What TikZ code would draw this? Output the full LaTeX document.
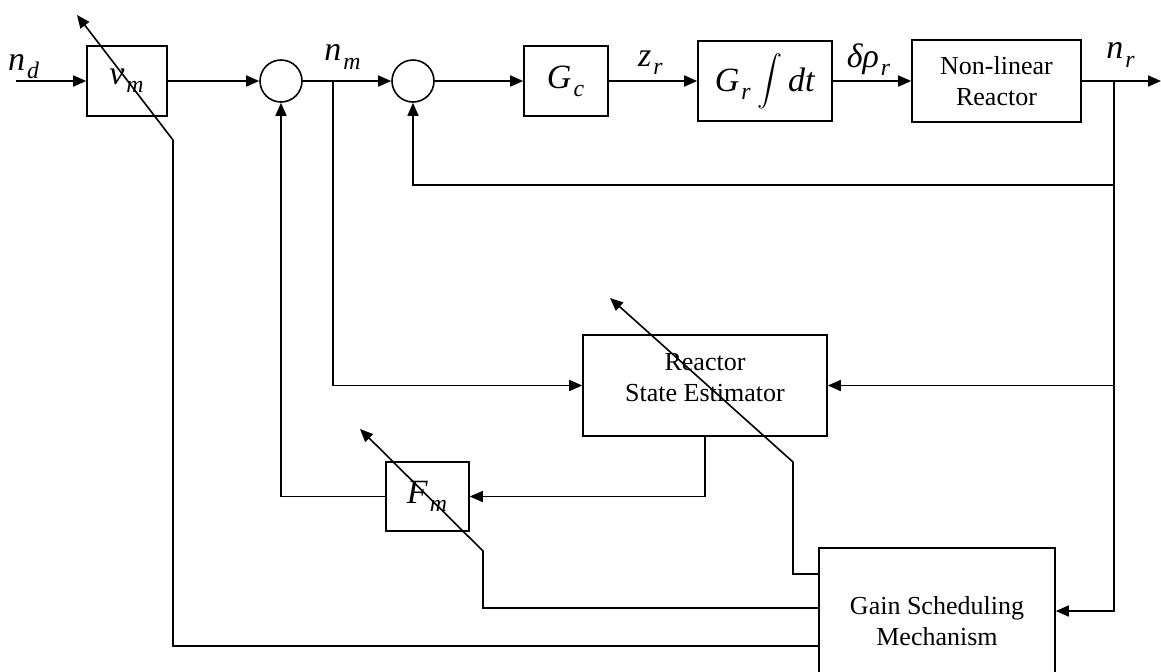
\documentclass[tikz,border=0pt]{standalone}
\usepackage{fontspec}
\setmainfont{Liberation Serif}
\usetikzlibrary{arrows.meta,calc}
\newcommand{\sg}[2]{\textit{#1}\kern1pt\raisebox{-1.5pt}{\textsubscript{\textit{#2}}}}

\begin{document}
\begin{tikzpicture}[x=0.5pt,y=-0.5pt,
  block/.style={draw,line width=0.8pt,inner sep=0pt,align=center,
    font=\fontsize{13}{15.5}\selectfont},
  sum/.style={draw,circle,line width=0.8pt,minimum size=21pt,inner sep=0pt},
  sig/.style={font=\fontsize{17}{20}\selectfont},
  wire/.style={line width=0.8pt},
  conn/.style={wire,-{Triangle[length=6.5pt,width=5.5pt]}}]
  \useasboundingbox (0,0) rectangle (1161,671);
  \clip (0,0) rectangle (1161,671);
  \node[block,sig,minimum width=40pt,minimum height=35pt] (vm) at (127,81) {\sg{v}{m}};
  \node[sum] (s1) at (281,81) {};
  \node[sum] (s2) at (413,81) {};
  \node[block,sig,minimum width=42pt,minimum height=35pt] (gc) at (566,81) {\sg{G}{c}};
  \node[block,sig,minimum width=67pt,minimum height=40pt] (gr) at (765,81)
    {\sg{G}{r}\,\scalebox{1.25}{$\displaystyle\int$}\,\textit{dt}};
  \node[block,minimum width=84.5pt,minimum height=41pt] (nl) at (996.5,81)
    {Non-linear\\Reactor};
  \node[block,minimum width=122pt,minimum height=50.5pt] (est) at (705,385.5)
    {\raisebox{4pt}[\height][\depth]{Reactor}\\\raisebox{4pt}[\height][\depth]{State Estimator}};
  \node[block,sig,minimum width=41.5pt,minimum height=34.5pt] (fm) at (427.5,496.5) {\sg{F}{m}};
  \node[block,minimum width=118pt,minimum height=73pt] (gsm) at (937,621)
    {Gain Scheduling\\Mechanism};
  \foreach \p/\q/\t/\a/\b in {24/67/nd/n/d, 343/57/nm/n/m, 651/63/zr/z/r, 1121/55/nr/n/r}
    {\node[sig] (l\t) at (\p,\q) {\sg{\a}{\b}};}
  \node[sig] (ldr) at (869,60) {\sg{δρ}{r}};
  \coordinate (in) at (16,81);
  \coordinate (out) at (1161,81);
  \coordinate (nmb) at (333,81);
  \coordinate (nrb) at (1114,81);
  \coordinate (fb) at (413,185);
  \coordinate (vmk) at (173,140);
  \coordinate (vmt) at (77,15);
  \coordinate (estk) at (793,462);
  \coordinate (estt) at (610,298);
  \coordinate (fmk) at (483,551);
  \coordinate (fmt) at (360,429);
  \draw[conn] (in) -- (vm);
  \draw[conn] (vm) -- (s1);
  \draw[conn] (s1) -- (s2);
  \draw[conn] (s2) -- (gc);
  \draw[conn] (gc) -- (gr);
  \draw[conn] (gr) -- (nl);
  \draw[conn] (nl) -- (out);
  \draw[conn] (nrb) |- (fb) -- (s2);
  \draw[conn] (nmb) |- (est);
  \draw[conn] (nrb) |- (est);
  \draw[conn] (nrb) |- ($(gsm.east)+(0,-10)$);
  \draw[conn] (est.south) |- (fm);
  \draw[conn] (fm) -| (s1);
  \draw[conn] ($(gsm.west)+(0,25)$) -| (vmk) -- (vmt);
  \draw[conn] ($(gsm.west)+(0,-47)$) -| (estk) -- (estt);
  \draw[conn] ($(gsm.west)+(0,-13)$) -| (fmk) -- (fmt);
\end{tikzpicture}
\end{document}
